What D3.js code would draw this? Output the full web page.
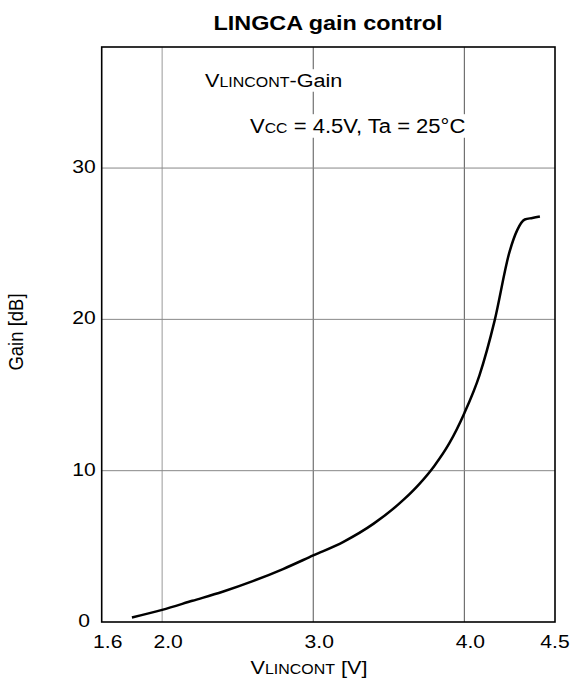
<!DOCTYPE html>
<html><head><meta charset="utf-8">
<script src="https://cdn.jsdelivr.net/npm/d3@7"></script>
<style>body{margin:0;background:#fff}svg{display:block;font-family:"Liberation Sans",Arial,sans-serif}</style>
</head><body>
<svg id="c" width="575" height="693"></svg>
<script>
const voltage = [1.8, 2.0, 2.2, 2.4, 2.6, 2.8, 3.0, 3.2, 3.4, 3.6, 3.7, 3.8, 3.9, 4.0, 4.1, 4.2, 4.3, 4.35, 4.4, 4.45, 4.5];
const gain    = [0.3, 0.8, 1.4, 2.0, 2.7, 3.5, 4.4, 5.3, 6.5, 8.1, 9.1, 10.3, 11.8, 13.8, 16.3, 19.9, 24.5, 25.9, 26.6, 26.7, 26.8];
const xTickValues = [1.6, 2.0, 3.0, 4.0, 4.6];
const xTickLabels = ["1.6", "2.0", "3.0", "4.0", "4.5"];
const yTickValues = [0, 10, 20, 30];
const xGrid = [2.0, 3.0, 4.0];
const yGrid = [10, 20, 30];

const svg = d3.select("#c");
const L = 101.7, R = 555, T = 47, B = 622;
const K = 1.14; // horizontal text stretch
const x = d3.scaleLinear().domain([1.6, 4.6]).range([L, R]);
const y = d3.scaleLinear().domain([0, 38]).range([B, T]);

// grid
svg.append("g").selectAll("line").data(xGrid).join("line")
  .attr("x1", d => x(d)).attr("x2", d => x(d)).attr("y1", T).attr("y2", B)
  .attr("stroke", d => d === 2 ? "#999" : "#555").attr("stroke-width", 1);
svg.append("g").selectAll("line").data(yGrid).join("line")
  .attr("x1", L).attr("x2", R).attr("y1", d => y(d)).attr("y2", d => y(d))
  .attr("stroke", "#888").attr("stroke-width", 1);

// helper for stretched text
function stext(px, py, anchor, size, parts, k, weight, bg) {
  const g = svg.append("g").attr("transform", `translate(${px},${py}) scale(${k},1)`);
  const t = g.append("text").attr("text-anchor", anchor).attr("font-size", size)
    .attr("font-weight", weight || "normal");
  parts.forEach(p => t.append("tspan").attr("font-size", p[1] || size).text(p[0]));
  if (bg) {
    const bb = t.node().getBBox();
    g.insert("rect", "text").attr("x", bb.x - 2).attr("y", bb.y - 1)
      .attr("width", bb.width + 4).attr("height", bb.height + 2).attr("fill", "#fff");
  }
  return g;
}

// curve
const pts = voltage.map((v, i) => [v, gain[i]]);
svg.append("path").datum(pts)
  .attr("d", d3.line().x(d => x(d[0])).y(d => y(d[1])).curve(d3.curveMonotoneX))
  .attr("fill", "none").attr("stroke", "#000").attr("stroke-width", 2.5);

// annotations (white background)
stext(205, 87, "start", 19, [["V"], ["LINCONT", 14], ["-Gain"]], 1.14, "normal", true);
stext(250, 133, "start", 19.5, [["V"], ["CC", 14], [" = 4.5V, Ta = 25°C"]], 1.13, "normal", true);

// frame
svg.append("rect").attr("x", L).attr("y", T).attr("width", R - L).attr("height", B - T)
  .attr("fill", "none").attr("stroke", "#000").attr("stroke-width", 1.6);

// x tick labels
xTickValues.forEach((d, i) => {
  stext(x(d) + (i < xTickValues.length - 1 ? 6 : 0), 648, "middle", 18.5, [[xTickLabels[i]]], K);
});

// y tick labels
yTickValues.forEach(d => {
  stext(84, y(d) + 5, "middle", 18.5, [[String(d)]], K);
});

// title
stext(328, 30, "middle", 20, [["LINGCA gain control"]], 1.17, "bold");

// x title
stext(309, 674, "middle", 19, [["V"], ["LINCONT", 14], [" [V]"]], K);

// y title
svg.append("text").attr("transform", "translate(23,332) rotate(-90) scale(1,1.1)")
  .attr("text-anchor", "middle").attr("font-size", 18.5).text("Gain [dB]");
</script>
</body></html>
